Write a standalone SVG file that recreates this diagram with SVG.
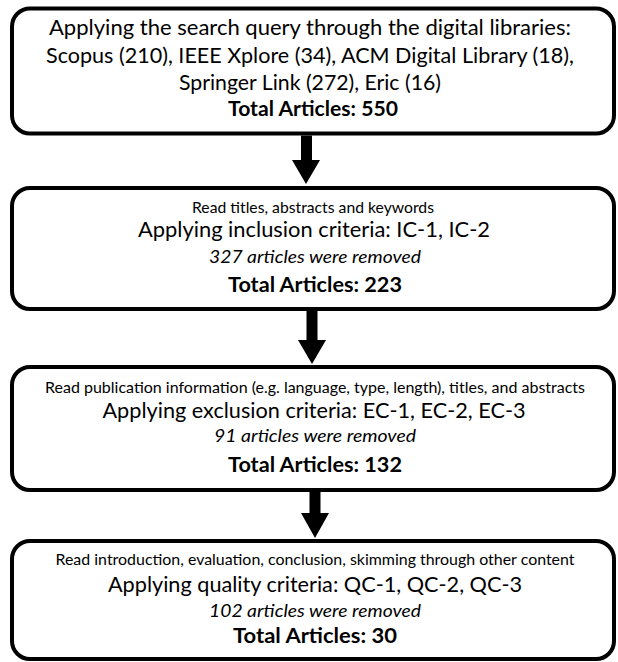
<svg xmlns="http://www.w3.org/2000/svg" width="618" height="662" viewBox="0 0 618 662">
<style>
.box{fill:#fff;stroke:#000;stroke-width:4}
text{font-family:Lato,"Open Sans","Liberation Sans",sans-serif;fill:#000;text-anchor:middle}
.m{font-size:21px}
.s{font-size:15px}
.i{font-size:18px;font-style:italic}
.b{font-size:20px;font-weight:bold}
.arrow{fill:#000}
</style>
<rect width="618" height="662" fill="#fff"/>
<g id="n1">
<rect class="box" x="12" y="8.5" width="602" height="125" rx="18"/>
<text class="m" x="310" y="35" textLength="522" lengthAdjust="spacingAndGlyphs">Applying the search query through the digital libraries:</text>
<text class="m" x="310" y="63" textLength="528" lengthAdjust="spacingAndGlyphs">Scopus (210), IEEE Xplore (34), ACM Digital Library (18),</text>
<text class="m" x="310" y="90" textLength="262" lengthAdjust="spacingAndGlyphs">Springer Link (272), Eric (16)</text>
<text class="b" x="313" y="116" textLength="170" lengthAdjust="spacingAndGlyphs">Total Articles: 550</text>
</g>
<g id="n2">
<rect class="box" x="12" y="188" width="602" height="121" rx="18"/>
<text class="s" x="313" y="213" textLength="242" lengthAdjust="spacingAndGlyphs">Read titles, abstracts and keywords</text>
<text class="m" x="314" y="237" textLength="352" lengthAdjust="spacingAndGlyphs">Applying inclusion criteria: IC-1, IC-2</text>
<text class="i" x="315" y="263" textLength="212" lengthAdjust="spacingAndGlyphs">327 articles were removed</text>
<text class="b" x="315" y="292" textLength="174" lengthAdjust="spacingAndGlyphs">Total Articles: 223</text>
</g>
<g id="n3">
<rect class="box" x="12" y="367" width="602" height="123" rx="18"/>
<text class="s" x="315" y="393" textLength="540" lengthAdjust="spacingAndGlyphs">Read publication information (e.g. language, type, length), titles, and abstracts</text>
<text class="m" x="314" y="418" textLength="423" lengthAdjust="spacingAndGlyphs">Applying exclusion criteria: EC-1, EC-2, EC-3</text>
<text class="i" x="315" y="442" textLength="202" lengthAdjust="spacingAndGlyphs">91 articles were removed</text>
<text class="b" x="315" y="472" textLength="174" lengthAdjust="spacingAndGlyphs">Total Articles: 132</text>
</g>
<g id="n4">
<rect class="box" x="12" y="541" width="602" height="118" rx="18"/>
<text class="s" x="315" y="565" textLength="519" lengthAdjust="spacingAndGlyphs">Read introduction, evaluation, conclusion, skimming through other content</text>
<text class="m" x="315" y="592" textLength="414" lengthAdjust="spacingAndGlyphs">Applying quality criteria: QC-1, QC-2, QC-3</text>
<text class="i" x="315" y="617" textLength="212" lengthAdjust="spacingAndGlyphs">102 articles were removed</text>
<text class="b" x="315" y="643" textLength="164" lengthAdjust="spacingAndGlyphs">Total Articles: 30</text>
</g>
<g id="connectors">
<polygon class="arrow" points="301,135.5 312,135.5 312,160 320,160 306,184 292,160 301,160"/>
<polygon class="arrow" points="306.5,311 317.5,311 317.5,340 326,340 312,364 298,340 306.5,340"/>
<polygon class="arrow" points="309.5,492 320.5,492 320.5,513 329,513 315,538 301,513 309.5,513"/>
</g>
</svg>
